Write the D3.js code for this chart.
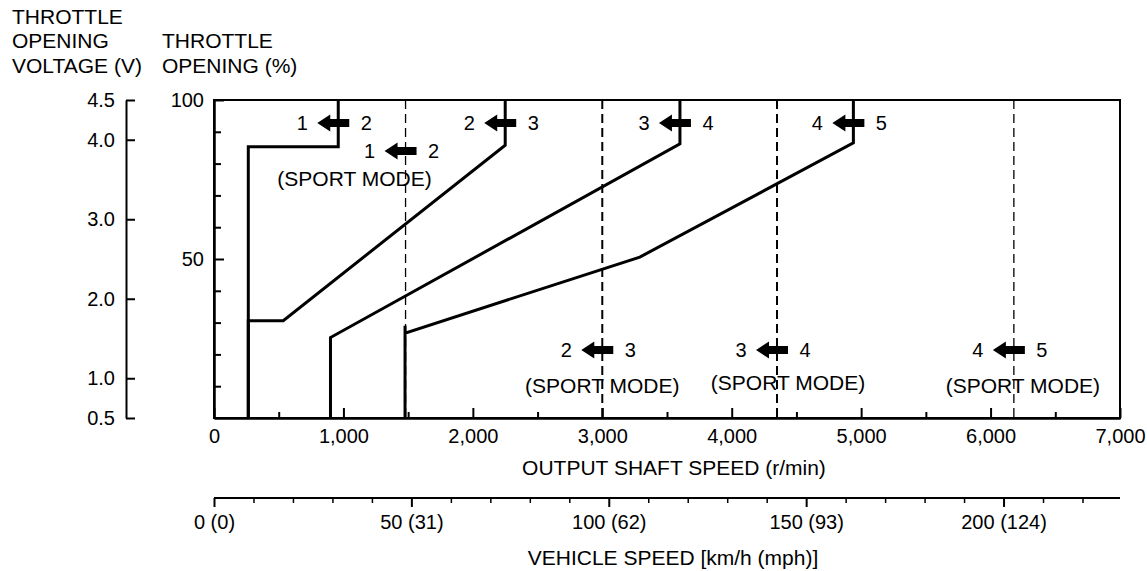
<!DOCTYPE html>
<html>
<head>
<meta charset="utf-8">
<script src="https://cdn.jsdelivr.net/npm/d3@7"></script>
<style>
  body { margin: 0; background: #fff; }
  svg { display: block; font-family: "Liberation Sans", Arial, sans-serif; }
  text { fill: #000; }
</style>
</head>
<body>
<svg id="chart" width="1147" height="571"></svg>
<script>
// shift pattern data (output shaft speed r/min, throttle opening %)
const gearPairs = [["1", "2"], ["2", "3"], ["3", "4"], ["4", "5"]];
const normalShiftLines = [
  [[265, 0], [265, 85.3], [960, 85.3], [960, 100]],
  [[265, 0], [265, 30.6], [535, 30.6], [2250, 85.8], [2250, 100]],
  [[900, 0], [900, 25.3], [3600, 86.2], [3600, 100]],
  [[1476, 0], [1476, 29], [1476, 26.7], [3290, 50.6], [4940, 86.5], [4940, 100]]
];
const sportShiftSpeeds = [1480, 3000, 4350, 6180];
const sportNote = "(SPORT MODE)";

const speedTicks = [0, 1000, 2000, 3000, 4000, 5000, 6000, 7000];
const speedMinorTicks = [500, 1500, 2500, 3500, 4500, 5500, 6500];
const openingTicks = [50, 100];
const openingMinorTicks = [10, 20, 30, 40, 60, 70, 80, 90];
const voltageTicks = [0.5, 1.0, 2.0, 3.0, 4.0, 4.5];
const vehicleTicks = [0, 50, 100, 150, 200];
const vehicleMph = [0, 31, 62, 93, 124];
const vehicleMinorTicks = [10, 20, 30, 40, 60, 70, 80, 90, 110, 120, 130, 140,
  160, 170, 180, 190, 210, 220];

const svg = d3.select("#chart");
const FS = 20;   // numbers
const TFS = 21;  // words

const plotLeft = 214, plotRight = 1120, plotTop = 100, plotBottom = 418;

const x = d3.scaleLinear().domain([0, 7000]).range([plotLeft, plotRight]);
const y = d3.scaleLinear().domain([0, 100]).range([plotBottom, plotTop]);
const volt = d3.scaleLinear().domain([0.5, 4.5]).range([plotBottom, plotTop]);
const kmh = d3.scaleLinear().domain([0, 229.5]).range([plotLeft, plotRight]);

const styleAxis = (g, w) => {
  g.selectAll("path.domain").attr("stroke", "#000").attr("stroke-width", w);
  g.selectAll(".tick line").attr("stroke", "#000").attr("stroke-width", 2);
  g.selectAll(".tick text")
    .attr("font-size", FS)
    .attr("font-family", "Liberation Sans, Arial, sans-serif")
    .attr("fill", "#000");
};

// sport mode dashed lines
svg.append("g")
  .selectAll("line")
  .data(sportShiftSpeeds)
  .enter()
  .append("line")
  .attr("x1", (d) => x(d))
  .attr("x2", (d) => x(d))
  .attr("y1", plotTop)
  .attr("y2", plotBottom)
  .attr("stroke", "#000")
  .attr("stroke-width", (d, i) => (i === 1 || i === 2 ? 2 : 1.3))
  .attr("stroke-dasharray", "9,5");

// frame
svg.append("rect")
  .attr("x", plotLeft)
  .attr("y", plotTop)
  .attr("width", plotRight - plotLeft)
  .attr("height", plotBottom - plotTop)
  .attr("fill", "none")
  .attr("stroke", "#000")
  .attr("stroke-width", 2);

// output shaft speed axis
const xAxis = svg.append("g")
  .attr("transform", "translate(0," + plotBottom + ")")
  .call(d3.axisBottom(x).tickValues(speedTicks).tickSizeInner(-10)
    .tickSizeOuter(0).tickPadding(11).tickFormat(d3.format(",")));
styleAxis(xAxis, 2);
const xMinor = svg.append("g")
  .attr("transform", "translate(0," + plotBottom + ")")
  .call(d3.axisBottom(x).tickValues(speedMinorTicks).tickSizeInner(-6)
    .tickSizeOuter(0).tickFormat(""));
styleAxis(xMinor, 2);

// throttle opening axis
const yAxis = svg.append("g")
  .attr("transform", "translate(" + plotLeft + ",0)")
  .call(d3.axisLeft(y).tickValues(openingTicks).tickSizeInner(-10)
    .tickSizeOuter(0).tickPadding(10));
styleAxis(yAxis, 2);
const yMinor = svg.append("g")
  .attr("transform", "translate(" + plotLeft + ",0)")
  .call(d3.axisLeft(y).tickValues(openingMinorTicks).tickSizeInner(-7)
    .tickSizeOuter(0).tickFormat(""));
styleAxis(yMinor, 2);

// throttle voltage axis
const vAxis = svg.append("g")
  .attr("transform", "translate(126,0)")
  .call(d3.axisLeft(volt).tickValues(voltageTicks).tickSizeInner(-9)
    .tickSizeOuter(0).tickPadding(11).tickFormat(d3.format(".1f")));
styleAxis(vAxis, 2);

// vehicle speed axis
const kAxis = svg.append("g")
  .attr("transform", "translate(0,498)")
  .call(d3.axisBottom(kmh).tickValues(vehicleTicks).tickSize(9)
    .tickPadding(8).tickFormat((d, i) => d + " (" + vehicleMph[i] + ")"));
styleAxis(kAxis, 2);
kAxis.select("path.domain").attr("d", "M" + plotLeft + ",0H" + plotRight);
const kMinor = svg.append("g")
  .attr("transform", "translate(0,498)")
  .call(d3.axisBottom(kmh).tickValues(vehicleMinorTicks).tickSize(5)
    .tickSizeOuter(0).tickFormat(""));
styleAxis(kMinor, 0);
kMinor.select("path.domain").remove();
kMinor.selectAll(".tick line").attr("stroke-width", 1.5);

// normal shift lines
const line = d3.line()
  .x((d) => x(d[0]))
  .y((d) => y(d[1]));

svg.append("g")
  .selectAll("path")
  .data(normalShiftLines)
  .enter()
  .append("path")
  .attr("d", line)
  .attr("fill", "none")
  .attr("stroke", "#000")
  .attr("stroke-width", 3);

// arrows with gear numbers
const drawArrow = (vx, cy, pair) => {
  const tip = vx - 21, base = vx - 8, end = vx + 11;
  svg.append("path")
    .attr("d", "M" + tip + "," + cy + "L" + base + "," + (cy - 8.5) +
      "L" + base + "," + (cy - 4) + "L" + end + "," + (cy - 4) +
      "L" + end + "," + (cy + 4) + "L" + base + "," + (cy + 4) +
      "L" + base + "," + (cy + 8.5) + "Z")
    .attr("fill", "#000");
  svg.append("text")
    .attr("x", vx - 36).attr("y", cy + 7)
    .attr("text-anchor", "middle").attr("font-size", FS)
    .text(pair[0]);
  svg.append("text")
    .attr("x", vx + 28).attr("y", cy + 7)
    .attr("text-anchor", "middle").attr("font-size", FS)
    .text(pair[1]);
};

normalShiftLines.forEach((pts, i) => {
  const last = pts[pts.length - 1];
  drawArrow(x(last[0]), 123, gearPairs[i]);
});

const sportArrowY = [151, 350, 350, 350];
const sportNoteDx = [-51, 0, 11, 9];
const sportNoteDy = [35, 43, 40, 43];
sportShiftSpeeds.forEach((s, i) => {
  drawArrow(x(s), sportArrowY[i], gearPairs[i]);
  svg.append("text")
    .attr("x", x(s) + sportNoteDx[i])
    .attr("y", sportArrowY[i] + sportNoteDy[i])
    .attr("text-anchor", "middle").attr("font-size", TFS)
    .text(sportNote);
});

// titles
const addText = (t, tx, ty, anchor) => {
  svg.append("text")
    .attr("x", tx).attr("y", ty)
    .attr("text-anchor", anchor || "start")
    .attr("font-size", TFS)
    .text(t);
};
addText("THROTTLE", 12, 24);
addText("OPENING", 12, 48);
addText("VOLTAGE (V)", 12, 73);
addText("THROTTLE", 162, 48);
addText("OPENING (%)", 162, 73);
addText("OUTPUT SHAFT SPEED (r/min)", 674, 475, "middle");
addText("VEHICLE SPEED [km/h (mph)]", 673, 565, "middle");
</script>
</body>
</html>
